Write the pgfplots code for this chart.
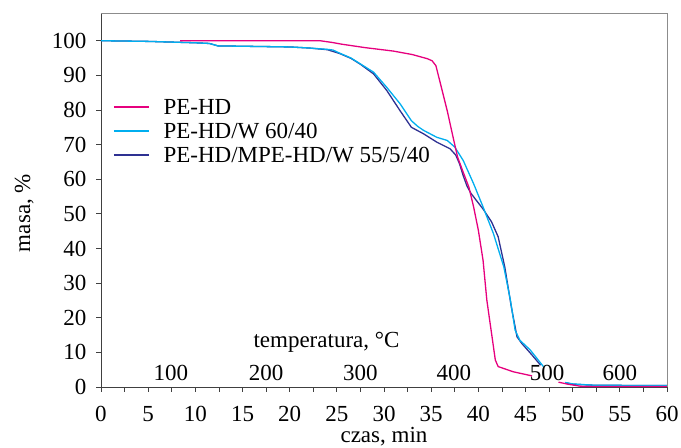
\documentclass[border=0pt]{standalone}
\usepackage{fontspec}
\setmainfont{Liberation Serif}
\usepackage{pgfplots}
\pgfplotsset{compat=1.18}
\definecolor{cpink}{HTML}{E6007E}
\definecolor{ccyan}{HTML}{00AEEF}
\definecolor{cblue}{HTML}{2E3192}

\begin{document}
\fontsize{23bp}{27bp}\selectfont
\begin{tikzpicture}
\begin{axis}[
  scale only axis, width=566bp, height=374bp,
  xmin=0, xmax=60, ymin=0, ymax=108,
  axis lines*=left,
  axis line style={-, color=black!75, line width=0.8bp},
  xtick={0,5,...,60}, minor x tick num=1,
  ytick={0,10,...,100},
  tick align=outside,
  tick style={color=black!75, line width=0.8bp},
  major tick length=4.5bp, minor tick length=4.5bp,
  /pgf/number format/assume math mode=true,
  tick label style={font=\fontsize{23bp}{27bp}\selectfont},
  xticklabel style={anchor=north, inner sep=0pt, yshift=-14.7bp},
  yticklabel style={anchor=east, inner sep=0pt, xshift=-10bp},
  xlabel={czas, min},
  xlabel style={at={(axis description cs:0.5,-0.149)}, anchor=base, inner sep=0pt},
  ylabel={masa, \%},
  ylabel style={at={(axis description cs:-0.1254,0.465)}, anchor=base, inner sep=0pt},
  legend style={at={(axis cs:1.27,83.1)}, anchor=north west, draw=none, fill=none,
    inner sep=0pt, outer sep=0pt, row sep=5bp, column sep=14bp,
    nodes={inner sep=0pt, text height=15bp, text depth=4bp},
    font=\fontsize{23bp}{27bp}\selectfont},
  legend cell align=left,
  legend image code/.code={\draw[#1] (0bp,2bp) -- (35bp,2bp);},
  clip=false,
]
\addlegendimage{cpink, line width=1.6bp}
\addlegendentry{PE-HD}
\addlegendimage{ccyan, line width=1.6bp}
\addlegendentry{PE-HD/W 60/40}
\addlegendimage{cblue, line width=1.6bp}
\addlegendentry{PE-HD/MPE-HD/W 55/5/40}

% PE-HD/MPE-HD/W 55/5/40
\addplot[cblue, line width=1.3bp, forget plot] coordinates {
(0,100) (5,99.8) (10,99.4) (11.5,99.2) (12.4,98.5) (15,98.4) (20,98.2) (22,97.9)
(24,97.4) (25.3,96.3) (26.5,94.9) (27.5,93.2) (28.9,90.4) (30.3,85.6) (31.7,79.8)
(32.9,75.0) (34.2,73.1) (35.6,70.7) (37.0,68.8) (37.6,67.0) (38.0,64.5) (38.4,61.0)
(38.8,58.0) (39.2,56.0) (39.7,54.2)
(40.5,51.4) (41.4,47.7) (42.1,43.4) (42.8,34.7) (43.5,23.1) (44.1,14.5) (44.6,12.6)
(45.7,9.2) (46.6,6.3)
};
\addplot[cblue, line width=1.3bp, forget plot] coordinates {
(49.3,1.2) (50,0.8) (52.3,0.5) (60,0.4)
};
% PE-HD/W 60/40
\addplot[ccyan, line width=1.3bp, forget plot] coordinates {
(0,100) (5,99.8) (10,99.4) (11.5,99.2) (12.4,98.5) (15,98.4) (20,98.2) (22,97.9)
(24,97.5) (24.6,97.3) (25.3,96.4) (26.5,95.0) (27.5,93.3) (28.9,90.9) (30.3,86.5)
(31.7,81.8) (32.9,76.9) (33.6,75.2) (34.2,74.1) (35.6,72.1) (36.7,71.2) (37.5,69.3)
(38.4,65.4) (39.5,58.7) (40.5,52.0) (41.6,44.3) (42.7,34.7) (43.4,25.1) (43.9,16.4)
(44.4,13.5) (45.5,10.7) (46.2,8.3) (46.9,5.9)
};
\addplot[ccyan, line width=1.3bp, forget plot] coordinates {
(49.2,1.3) (50,0.9) (52.3,0.5) (60,0.4)
};
% PE-HD
\addplot[cpink, line width=1.3bp, forget plot] coordinates {
(8.4,100) (12,100) (18,100) (23.2,100) (24.5,99.5) (25.5,99.0) (28,98.0) (31,97.0)
(33,96.0) (34.6,94.8) (35.1,94.2) (35.5,92.8) (35.9,88.5) (36.7,79.8) (37.4,71.2) (37.8,66.4)
(38.4,62.0) (39.0,57.7) (39.5,52.0) (40.0,45.3) (40.5,36.6) (40.9,25.1) (41.4,15.5)
(41.8,7.8) (42.1,5.9) (43.7,4.4) (45.7,3.2)
};
\addplot[cpink, line width=1.3bp, forget plot] coordinates {
(48.5,1.4) (49.5,0.8) (51,0.15) (60,0.15)
};

\draw[black!45, line width=0.8bp] (rel axis cs:0,1) -- (rel axis cs:1,1) -- (rel axis cs:1,0);

\node[anchor=base] at (axis cs:7.4,2.0) {100};
\node[anchor=base] at (axis cs:17.5,2.0) {200};
\node[anchor=base] at (axis cs:27.5,2.0) {300};
\node[anchor=base] at (axis cs:37.4,2.0) {400};
\node[anchor=base] at (axis cs:47.3,2.0) {500};
\node[anchor=base] at (axis cs:55.0,2.0) {600};
\node[anchor=base] at (axis cs:23.9,11.5) {temperatura, °C};
\end{axis}
\pgfresetboundingbox
\path[use as bounding box] (current axis.south west) ++(-101bp,-61bp) rectangle ++(681bp,448bp);
\end{tikzpicture}
\end{document}
